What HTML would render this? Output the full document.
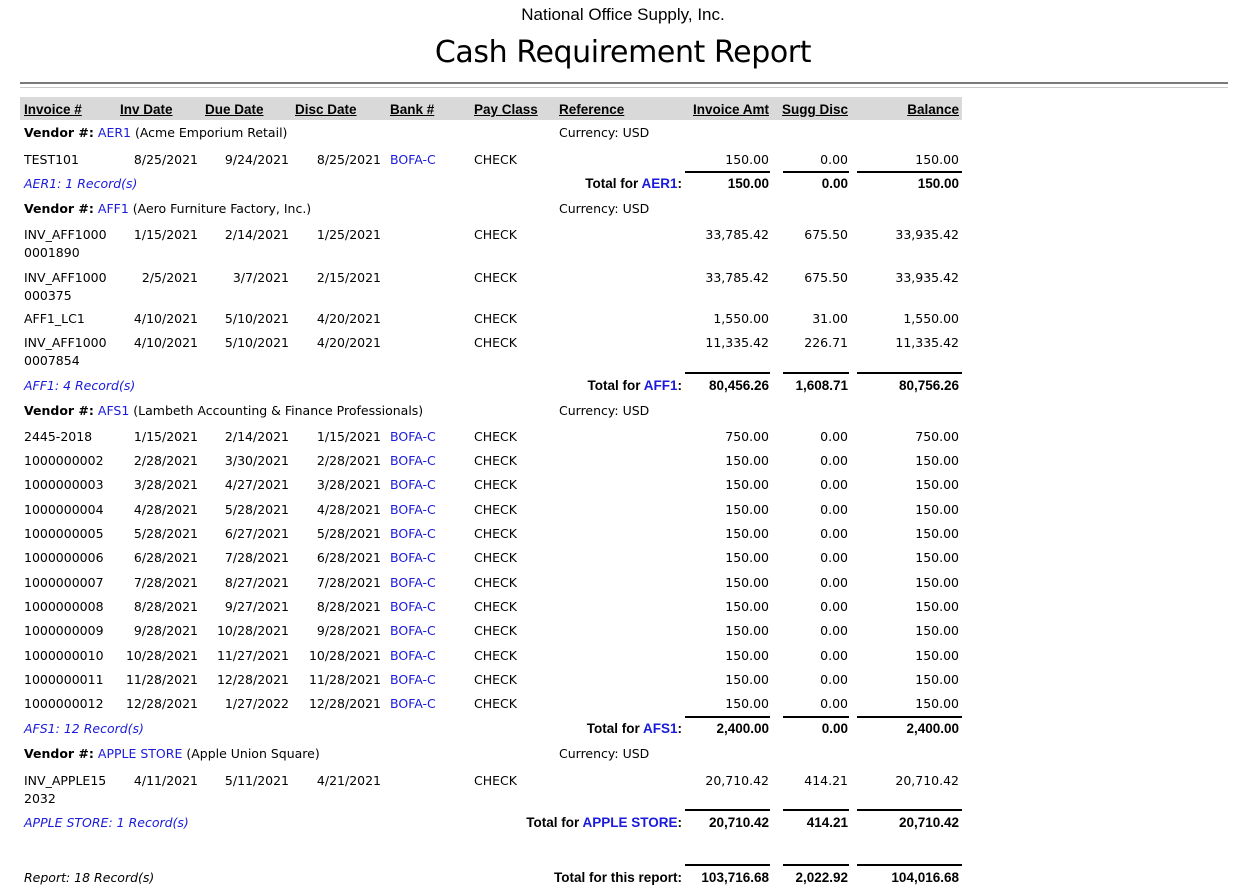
<!DOCTYPE html>
<html><head><meta charset="utf-8"><style>
body{margin:0;width:1250px;height:896px;background:#fff;position:relative;overflow:hidden;font-family:"DejaVu Sans","Liberation Sans",sans-serif;font-size:12.5px;color:#000}
.t1{position:absolute;top:5px;left:0;width:1246px;text-align:center;font-family:"Liberation Sans Narrow","Liberation Sans",sans-serif;font-size:17px}
.t2{position:absolute;top:35px;left:0;width:1246px;text-align:center;font-family:"DejaVu Sans",sans-serif;font-size:30px;letter-spacing:-0.4px}
.r{position:absolute;left:0;width:1250px;height:18px;line-height:18px;margin-top:1px}
.r span{position:absolute;white-space:nowrap}
.a{left:24px}.b{right:1052px}.c{right:961px}.d{right:869px}.e{left:390px;color:#1a1adc}.f{left:474px}.g{left:559px}
.h{right:481px}.i{right:402px}.j{right:291px}
.hd{font-family:"Liberation Sans Narrow","Liberation Sans",sans-serif;font-weight:bold;font-size:13.5px;text-decoration:underline}
.bd{font-family:"Liberation Sans Narrow","Liberation Sans",sans-serif;font-weight:bold;font-size:13.5px}
.bl{color:#1a1adc}
.rec{font-style:italic;color:#1a1adc}
.ln{position:absolute;height:2px;background:#000}
</style></head><body>
<div class="t1">National Office Supply, Inc.</div>
<div class="t2">Cash Requirement Report</div>
<div style="position:absolute;left:20px;top:82px;width:1208px;height:2px;background:#7a7a7a"></div>
<div style="position:absolute;left:20px;top:87px;width:1208px;height:1px;background:#c8c8c8"></div>
<div style="position:absolute;left:20px;top:97px;width:942px;height:23px;background:#d9d9d9"></div>

<div class="r" style="top:100px"><span class="a hd">Invoice #</span><span class="hd" style="left:120px">Inv Date</span><span class="hd" style="left:205px">Due Date</span><span class="hd" style="left:295px">Disc Date</span><span class="hd" style="left:390px">Bank #</span><span class="hd" style="left:474px">Pay Class</span><span class="hd" style="left:559px">Reference</span><span class="h hd">Invoice Amt</span><span class="i hd">Sugg Disc</span><span class="j hd">Balance</span></div>

<div class="r" style="top:123px"><span class="a"><b>Vendor #:</b> <span class="bl" style="position:static">AER1</span> (Acme Emporium Retail)</span><span class="g">Currency: USD</span></div>
<div class="r" style="top:150px"><span class="a">TEST101</span><span class="b">8/25/2021</span><span class="c">9/24/2021</span><span class="d">8/25/2021</span><span class="e">BOFA-C</span><span class="f">CHECK</span><span class="h">150.00</span><span class="i">0.00</span><span class="j">150.00</span></div>
<div class="ln" style="top:171px;left:685px;width:85px"></div><div class="ln" style="top:171px;left:783px;width:66px"></div><div class="ln" style="top:171px;left:857px;width:105px"></div>
<div class="r" style="top:174px"><span class="a rec">AER1: 1 Record(s)</span><span class="h bd" style="right:568px">Total for <span class="bl" style="position:static">AER1</span>:</span><span class="h bd">150.00</span><span class="i bd">0.00</span><span class="j bd">150.00</span></div>

<div class="r" style="top:199px"><span class="a"><b>Vendor #:</b> <span class="bl" style="position:static">AFF1</span> (Aero Furniture Factory, Inc.)</span><span class="g">Currency: USD</span></div>
<div class="r" style="top:225px"><span class="a">INV_AFF1000<br>0001890</span><span class="b">1/15/2021</span><span class="c">2/14/2021</span><span class="d">1/25/2021</span><span class="f">CHECK</span><span class="h">33,785.42</span><span class="i">675.50</span><span class="j">33,935.42</span></div>
<div class="r" style="top:268px"><span class="a">INV_AFF1000<br>000375</span><span class="b">2/5/2021</span><span class="c">3/7/2021</span><span class="d">2/15/2021</span><span class="f">CHECK</span><span class="h">33,785.42</span><span class="i">675.50</span><span class="j">33,935.42</span></div>
<div class="r" style="top:309px"><span class="a">AFF1_LC1</span><span class="b">4/10/2021</span><span class="c">5/10/2021</span><span class="d">4/20/2021</span><span class="f">CHECK</span><span class="h">1,550.00</span><span class="i">31.00</span><span class="j">1,550.00</span></div>
<div class="r" style="top:333px"><span class="a">INV_AFF1000<br>0007854</span><span class="b">4/10/2021</span><span class="c">5/10/2021</span><span class="d">4/20/2021</span><span class="f">CHECK</span><span class="h">11,335.42</span><span class="i">226.71</span><span class="j">11,335.42</span></div>
<div class="ln" style="top:372px;left:685px;width:85px"></div><div class="ln" style="top:372px;left:783px;width:66px"></div><div class="ln" style="top:372px;left:857px;width:105px"></div>
<div class="r" style="top:376px"><span class="a rec">AFF1: 4 Record(s)</span><span class="h bd" style="right:568px">Total for <span class="bl" style="position:static">AFF1</span>:</span><span class="h bd">80,456.26</span><span class="i bd">1,608.71</span><span class="j bd">80,756.26</span></div>

<div class="r" style="top:401px"><span class="a"><b>Vendor #:</b> <span class="bl" style="position:static">AFS1</span> (Lambeth Accounting &amp; Finance Professionals)</span><span class="g">Currency: USD</span></div>
<div class="r" style="top:427px"><span class="a">2445-2018</span><span class="b">1/15/2021</span><span class="c">2/14/2021</span><span class="d">1/15/2021</span><span class="e">BOFA-C</span><span class="f">CHECK</span><span class="h">750.00</span><span class="i">0.00</span><span class="j">750.00</span></div>
<div class="r" style="top:451px"><span class="a">1000000002</span><span class="b">2/28/2021</span><span class="c">3/30/2021</span><span class="d">2/28/2021</span><span class="e">BOFA-C</span><span class="f">CHECK</span><span class="h">150.00</span><span class="i">0.00</span><span class="j">150.00</span></div>
<div class="r" style="top:475px"><span class="a">1000000003</span><span class="b">3/28/2021</span><span class="c">4/27/2021</span><span class="d">3/28/2021</span><span class="e">BOFA-C</span><span class="f">CHECK</span><span class="h">150.00</span><span class="i">0.00</span><span class="j">150.00</span></div>
<div class="r" style="top:500px"><span class="a">1000000004</span><span class="b">4/28/2021</span><span class="c">5/28/2021</span><span class="d">4/28/2021</span><span class="e">BOFA-C</span><span class="f">CHECK</span><span class="h">150.00</span><span class="i">0.00</span><span class="j">150.00</span></div>
<div class="r" style="top:524px"><span class="a">1000000005</span><span class="b">5/28/2021</span><span class="c">6/27/2021</span><span class="d">5/28/2021</span><span class="e">BOFA-C</span><span class="f">CHECK</span><span class="h">150.00</span><span class="i">0.00</span><span class="j">150.00</span></div>
<div class="r" style="top:548px"><span class="a">1000000006</span><span class="b">6/28/2021</span><span class="c">7/28/2021</span><span class="d">6/28/2021</span><span class="e">BOFA-C</span><span class="f">CHECK</span><span class="h">150.00</span><span class="i">0.00</span><span class="j">150.00</span></div>
<div class="r" style="top:573px"><span class="a">1000000007</span><span class="b">7/28/2021</span><span class="c">8/27/2021</span><span class="d">7/28/2021</span><span class="e">BOFA-C</span><span class="f">CHECK</span><span class="h">150.00</span><span class="i">0.00</span><span class="j">150.00</span></div>
<div class="r" style="top:597px"><span class="a">1000000008</span><span class="b">8/28/2021</span><span class="c">9/27/2021</span><span class="d">8/28/2021</span><span class="e">BOFA-C</span><span class="f">CHECK</span><span class="h">150.00</span><span class="i">0.00</span><span class="j">150.00</span></div>
<div class="r" style="top:621px"><span class="a">1000000009</span><span class="b">9/28/2021</span><span class="c">10/28/2021</span><span class="d">9/28/2021</span><span class="e">BOFA-C</span><span class="f">CHECK</span><span class="h">150.00</span><span class="i">0.00</span><span class="j">150.00</span></div>
<div class="r" style="top:646px"><span class="a">1000000010</span><span class="b">10/28/2021</span><span class="c">11/27/2021</span><span class="d">10/28/2021</span><span class="e">BOFA-C</span><span class="f">CHECK</span><span class="h">150.00</span><span class="i">0.00</span><span class="j">150.00</span></div>
<div class="r" style="top:670px"><span class="a">1000000011</span><span class="b">11/28/2021</span><span class="c">12/28/2021</span><span class="d">11/28/2021</span><span class="e">BOFA-C</span><span class="f">CHECK</span><span class="h">150.00</span><span class="i">0.00</span><span class="j">150.00</span></div>
<div class="r" style="top:694px"><span class="a">1000000012</span><span class="b">12/28/2021</span><span class="c">1/27/2022</span><span class="d">12/28/2021</span><span class="e">BOFA-C</span><span class="f">CHECK</span><span class="h">150.00</span><span class="i">0.00</span><span class="j">150.00</span></div>
<div class="ln" style="top:716px;left:685px;width:85px"></div><div class="ln" style="top:716px;left:783px;width:66px"></div><div class="ln" style="top:716px;left:857px;width:105px"></div>
<div class="r" style="top:719px"><span class="a rec">AFS1: 12 Record(s)</span><span class="h bd" style="right:568px">Total for <span class="bl" style="position:static">AFS1</span>:</span><span class="h bd">2,400.00</span><span class="i bd">0.00</span><span class="j bd">2,400.00</span></div>

<div class="r" style="top:744px"><span class="a"><b>Vendor #:</b> <span class="bl" style="position:static">APPLE STORE</span> (Apple Union Square)</span><span class="g">Currency: USD</span></div>
<div class="r" style="top:771px"><span class="a">INV_APPLE15<br>2032</span><span class="b">4/11/2021</span><span class="c">5/11/2021</span><span class="d">4/21/2021</span><span class="f">CHECK</span><span class="h">20,710.42</span><span class="i">414.21</span><span class="j">20,710.42</span></div>
<div class="ln" style="top:809px;left:685px;width:85px"></div><div class="ln" style="top:809px;left:783px;width:66px"></div><div class="ln" style="top:809px;left:857px;width:105px"></div>
<div class="r" style="top:813px"><span class="a rec">APPLE STORE: 1 Record(s)</span><span class="h bd" style="right:568px">Total for <span class="bl" style="position:static">APPLE STORE</span>:</span><span class="h bd">20,710.42</span><span class="i bd">414.21</span><span class="j bd">20,710.42</span></div>

<div class="ln" style="top:864px;left:685px;width:85px"></div><div class="ln" style="top:864px;left:783px;width:66px"></div><div class="ln" style="top:864px;left:857px;width:105px"></div>
<div class="r" style="top:868px"><span class="a" style="font-style:italic">Report: 18 Record(s)</span><span class="h bd" style="right:568px">Total for this report:</span><span class="h bd">103,716.68</span><span class="i bd">2,022.92</span><span class="j bd">104,016.68</span></div>
</body></html>
